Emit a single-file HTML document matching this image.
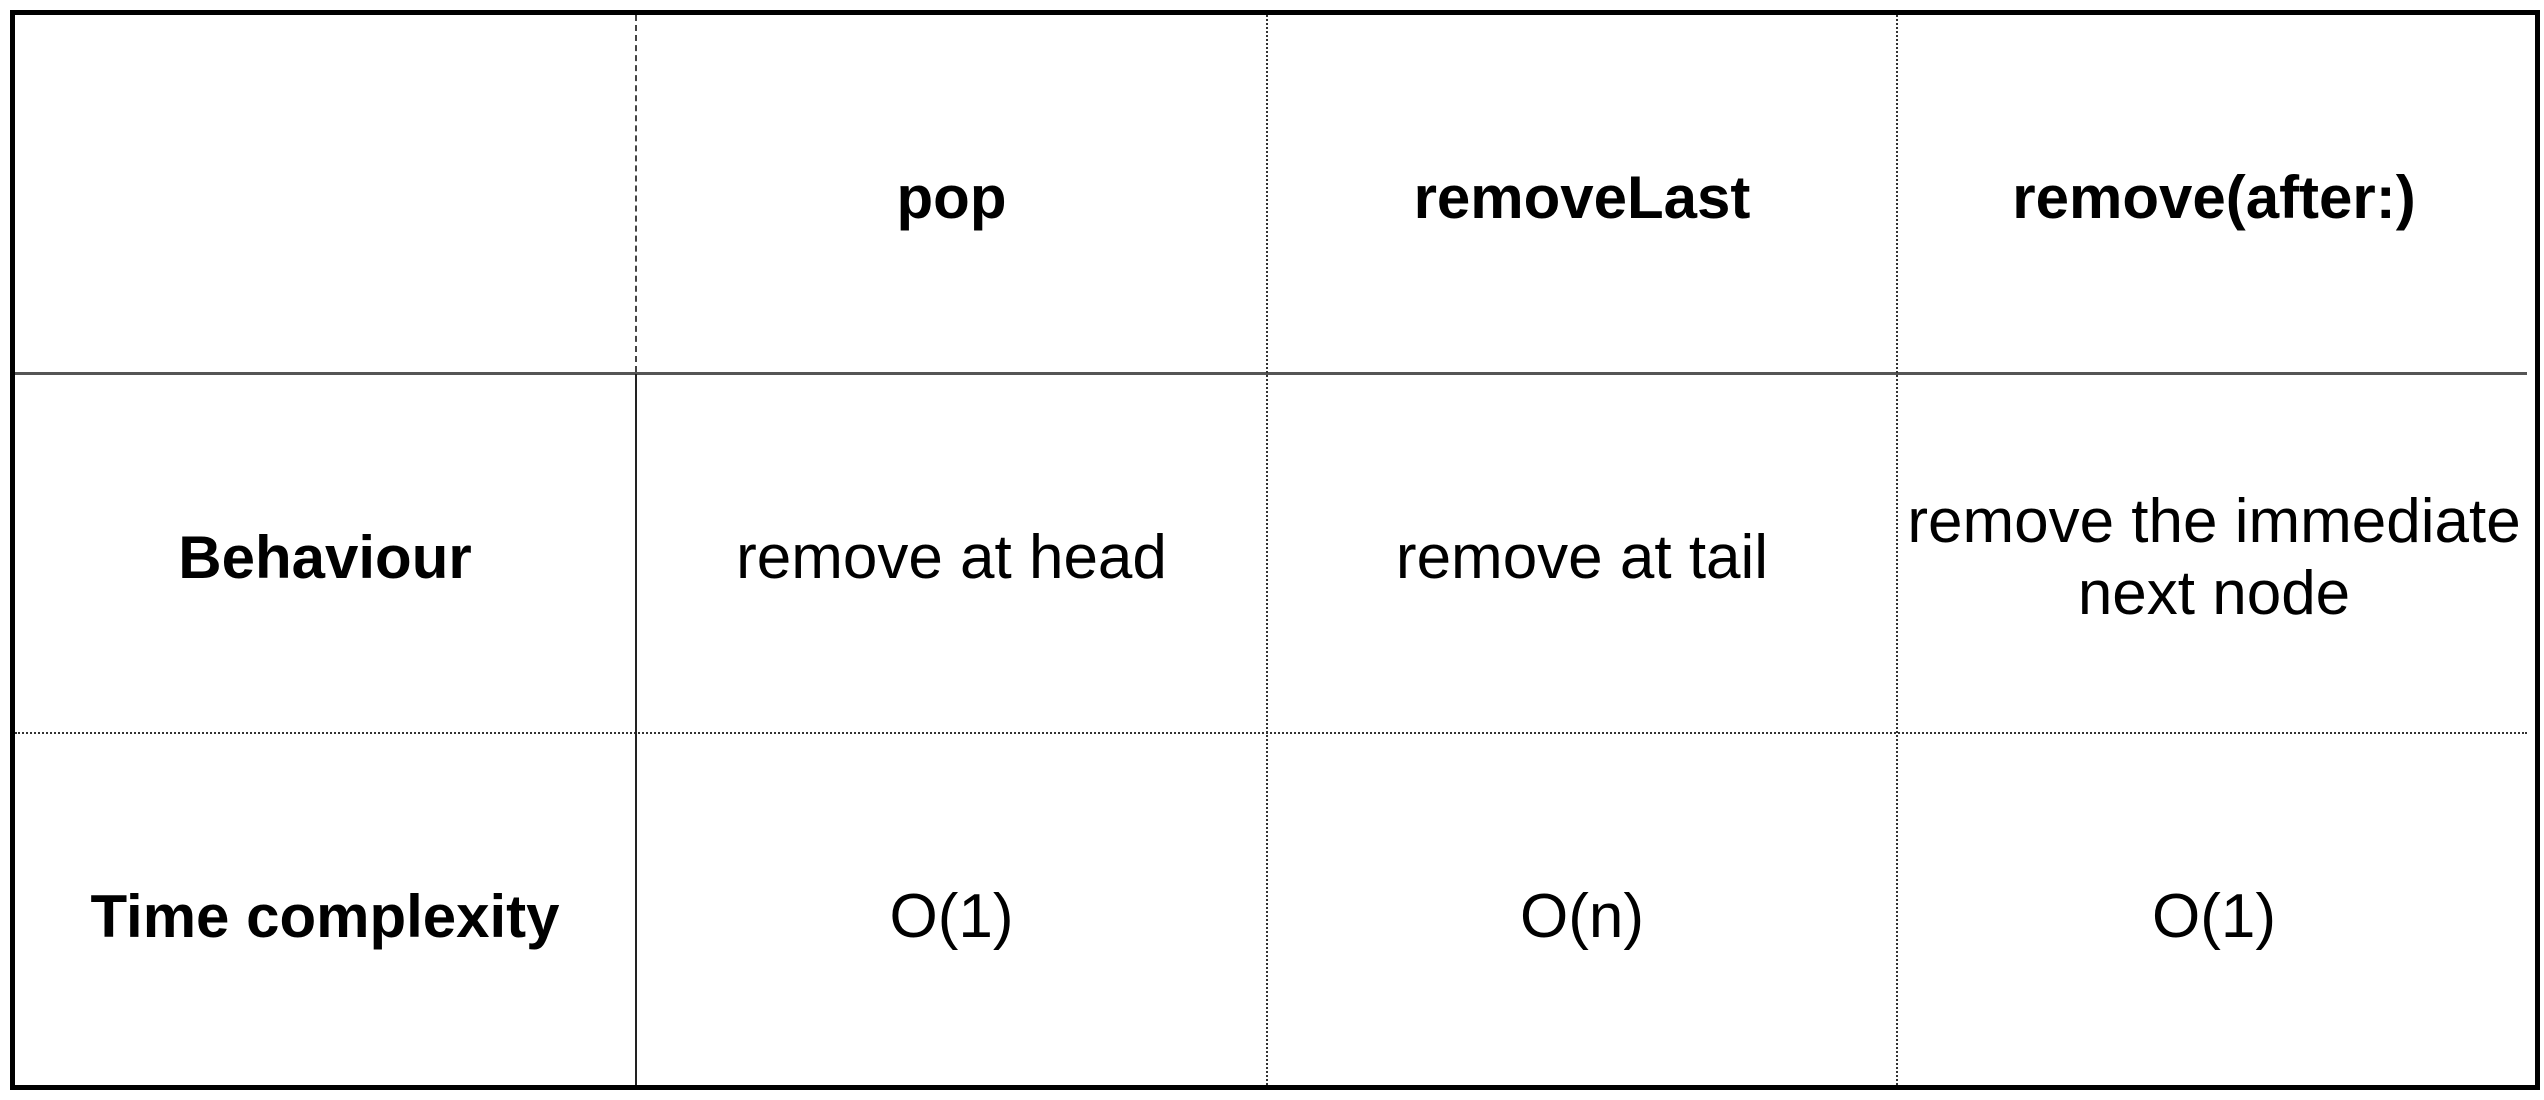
<!DOCTYPE html>
<html><head><meta charset="utf-8"><style>
body{margin:0;width:2544px;height:1100px;background:#fff;position:relative;overflow:hidden;font-family:"Liberation Sans",Arial,sans-serif;color:#000}
.l{position:absolute}
.t{position:absolute;display:flex;align-items:center;justify-content:center;text-align:center;font-size:62px;line-height:72px}
.b{font-weight:bold;font-size:60px}
</style></head><body>
<div class="l" style="left:10px;top:10px;width:2520px;height:1070px;border:5px solid #000"></div>
<div class="l" style="left:15px;top:372px;width:2512px;height:0;border-top:3px solid #555"></div>
<div class="l" style="left:15px;top:732px;width:2512px;height:0;border-top:2px dotted #333"></div>
<div class="l" style="left:635px;top:15px;height:357px;width:0;border-left:2px dashed #444"></div>
<div class="l" style="left:635px;top:374px;height:711px;width:0;border-left:2px solid #222"></div>
<div class="l" style="left:1266px;top:15px;height:1070px;width:0;border-left:2px dotted #333"></div>
<div class="l" style="left:1896px;top:15px;height:1070px;width:0;border-left:2px dotted #333"></div>

<div class="t b" style="left:637px;top:19px;width:629px;height:357px">pop</div>
<div class="t b" style="left:1268px;top:19px;width:628px;height:357px">removeLast</div>
<div class="t b" style="left:1898px;top:19px;width:632px;height:357px">remove(after:)</div>

<div class="t b" style="left:15px;top:379px;width:620px;height:357px">Behaviour</div>
<div class="t" style="left:637px;top:379px;width:629px;height:357px">remove at head</div>
<div class="t" style="left:1268px;top:379px;width:628px;height:357px">remove at tail</div>
<div class="t" style="left:1898px;top:379px;width:632px;height:357px">remove the immediate<br>next node</div>

<div class="t b" style="left:15px;top:741px;width:620px;height:351px">Time complexity</div>
<div class="t" style="left:637px;top:741px;width:629px;height:351px">O(1)</div>
<div class="t" style="left:1268px;top:741px;width:628px;height:351px">O(n)</div>
<div class="t" style="left:1898px;top:741px;width:632px;height:351px">O(1)</div>
</body></html>
